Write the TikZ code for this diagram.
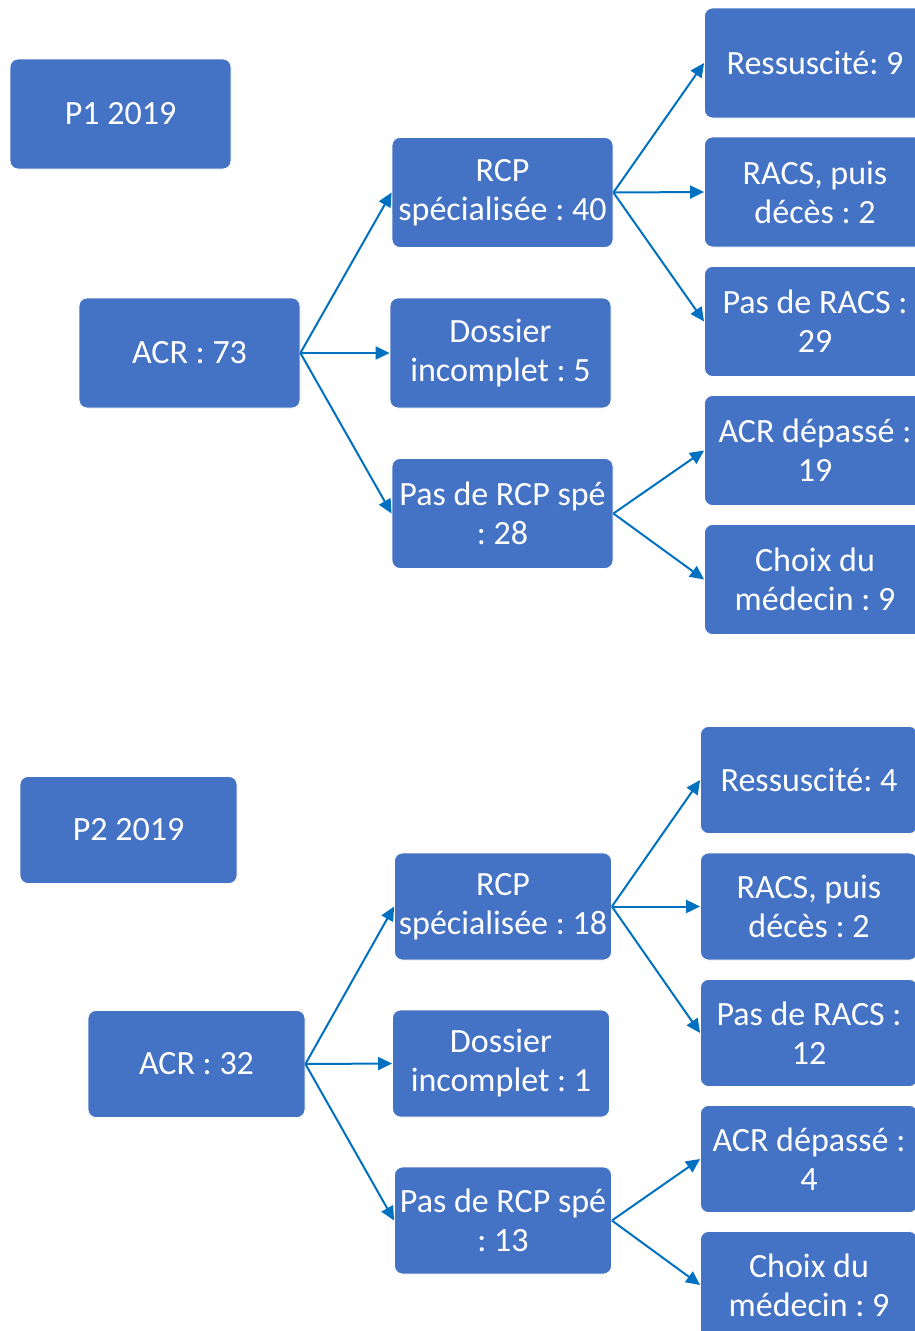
\documentclass[tikz,border=0pt]{standalone}
\usepackage{fontspec}
\setmainfont{Carlito}
\usetikzlibrary{arrows.meta}
\definecolor{boxblue}{HTML}{4472C4}
\definecolor{arrowblue}{HTML}{0070C0}
\frenchspacing
\tikzset{
	box/.style={rectangle, rounded corners=8pt, fill=boxblue, draw=white, line width=0.8pt, text=white, align=center, inner sep=0pt, font=\fontsize{34}{39}\selectfont},
	boxA/.style={box, minimum width=221pt, minimum height=110pt},
	boxB/.style={box, minimum width=217pt, minimum height=107pt},
	link/.style={draw=arrowblue, line width=2pt, -{Triangle[length=14pt,width=13pt]}}
}

\begin{document}
\begin{tikzpicture}[x=1pt, y=-1pt]
		%%%%% START %%%%%
		\useasboundingbox (0, 0) rectangle (915, 1331);
		\clip (0, 0) rectangle (915, 1331);
		
		% P1 2019
		\node[boxA] (p1) at (120.5, 114) {P1 2019};
		\node[boxA] (acrA) at (189.5, 353) {ACR : 73};
		\node[boxA] (rcpA) at (502.5, 192.5) {RCP\\spécialisée : 40};
		\node[boxA] (dosA) at (500.5, 353) {Dossier\\incomplet : 5};
		\node[boxA] (pasA) at (502.5, 513.5) {Pas de RCP spé\\: 28};
		
		\node[boxA] (resA) at (815, 63) {Ressuscité: 9};
		\node[boxA] (racsA) at (815, 192) {RACS, puis\\décès : 2};
		\node[boxA] (nracsA) at (815, 321.5) {Pas de RACS :\\29};
		\node[boxA] (depA) at (815, 450.5) {ACR dépassé :\\19};
		\node[boxA] (choixA) at (815, 579.5) {Choix du\\médecin : 9};
		
		\draw[link] (acrA.east) -- (rcpA.west);
		\draw[link] (acrA.east) -- (dosA.west);
		\draw[link] (acrA.east) -- (pasA.west);
		\draw[link] (rcpA.east) -- (resA.west);
		\draw[link] (rcpA.east) -- (racsA.west);
		\draw[link] (rcpA.east) -- (nracsA.west);
		\draw[link] (pasA.east) -- (depA.west);
		\draw[link] (pasA.east) -- (choixA.west);
		
		% P2 2019
		\node[boxB] (p2) at (128.5, 830) {P2 2019};
		\node[boxB] (acrB) at (196.5, 1064) {ACR : 32};
		\node[boxB] (rcpB) at (503, 906.5) {RCP\\spécialisée : 18};
		\node[boxB] (dosB) at (501, 1063.5) {Dossier\\incomplet : 1};
		\node[boxB] (pasB) at (503, 1220.5) {Pas de RCP spé\\: 13};
		
		\node[boxB] (resB) at (809, 780) {Ressuscité: 4};
		\node[boxB] (racsB) at (809, 906.5) {RACS, puis\\décès : 2};
		\node[boxB] (nracsB) at (809, 1033) {Pas de RACS :\\12};
		\node[boxB] (depB) at (809, 1159) {ACR dépassé :\\4};
		\node[boxB] (choixB) at (809, 1285) {Choix du\\médecin : 9};
		
		\draw[link] (acrB.east) -- (rcpB.west);
		\draw[link] (acrB.east) -- (dosB.west);
		\draw[link] (acrB.east) -- (pasB.west);
		\draw[link] (rcpB.east) -- (resB.west);
		\draw[link] (rcpB.east) -- (racsB.west);
		\draw[link] (rcpB.east) -- (nracsB.west);
		\draw[link] (pasB.east) -- (depB.west);
		\draw[link] (pasB.east) -- (choixB.west);
		
		%%%%% END %%%%%
	\end{tikzpicture}
\end{document}
